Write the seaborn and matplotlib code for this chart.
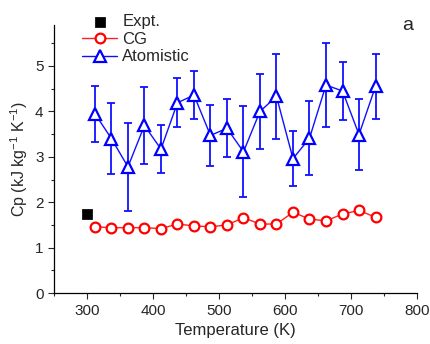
import matplotlib
matplotlib.use("Agg")
import matplotlib.pyplot as plt
import seaborn as sns
import pandas as pd
import numpy as np
from matplotlib.ticker import MultipleLocator

temperature = [312, 337, 362, 387, 412, 437, 462, 487, 512, 537, 562, 587, 612, 637, 662, 687, 712, 737]
cg_cp = [1.46, 1.44, 1.44, 1.44, 1.42, 1.52, 1.48, 1.46, 1.50, 1.66, 1.52, 1.52, 1.78, 1.63, 1.59, 1.74, 1.82, 1.67]
atom_cp = [3.95, 3.40, 2.78, 3.69, 3.17, 4.19, 4.36, 3.47, 3.63, 3.11, 4.00, 4.33, 2.96, 3.41, 4.58, 4.45, 3.49, 4.55]
atom_err = [0.62, 0.78, 0.97, 0.85, 0.53, 0.54, 0.52, 0.67, 0.64, 1.00, 0.83, 0.94, 0.61, 0.82, 0.92, 0.63, 0.78, 0.71]
expt_T = [300]
expt_cp = [1.75]

sns.set_style("ticks")
plt.rcParams['font.family'] = ['Liberation Sans', 'DejaVu Sans']
plt.rcParams['mathtext.fontset'] = 'custom'
plt.rcParams['mathtext.rm'] = 'Liberation Sans'
plt.rcParams['mathtext.it'] = 'Liberation Sans'

fig = plt.figure(figsize=(4.3, 3.44), dpi=100)
ax = fig.add_axes([0.1256, 0.148, 0.8444, 0.779])

df_cg = pd.DataFrame({"T": temperature, "Cp": cg_cp})
df_at = pd.DataFrame({"T": temperature, "Cp": atom_cp, "err": atom_err})
df_ex = pd.DataFrame({"T": expt_T, "Cp": expt_cp})

ax.errorbar(df_at["T"], df_at["Cp"], yerr=df_at["err"], fmt="none",
            ecolor="#1010ff", elinewidth=1.3, capsize=3, capthick=1.3, zorder=2)

sns.scatterplot(data=df_ex, x="T", y="Cp", marker="s", color="black", s=45,
                edgecolor="black", ax=ax, label="Expt.", zorder=4)
sns.lineplot(data=df_cg, x="T", y="Cp", color="#ff2020", lw=1.0, marker="o",
             markersize=7, markerfacecolor="white", markeredgecolor="#ff0000",
             markeredgewidth=1.6, ax=ax, label="CG", zorder=3)
sns.lineplot(data=df_at, x="T", y="Cp", color="#1010ff", lw=1.0, marker="^",
             markersize=9, markerfacecolor="white", markeredgecolor="#0000ff",
             markeredgewidth=1.6, ax=ax, label="Atomistic", zorder=3)

ax.set_xlim(250, 800)
ax.set_ylim(0, 5.9)
ax.xaxis.set_major_locator(MultipleLocator(100))
ax.xaxis.set_minor_locator(MultipleLocator(50))
ax.yaxis.set_major_locator(MultipleLocator(1))
ax.yaxis.set_minor_locator(MultipleLocator(0.5))
ax.set_xticks([300, 400, 500, 600, 700, 800])
ax.tick_params(axis="both", which="major", direction="out", length=4, width=0.8, labelsize=11)
ax.tick_params(axis="both", which="minor", direction="out", length=2, width=0.8)
sns.despine(ax=ax)
for s in ["left", "bottom"]:
    ax.spines[s].set_linewidth(0.9)
    ax.spines[s].set_color("black")

ax.set_xlabel("Temperature (K)", fontsize=12)
ax.set_ylabel("Cp (kJ kg$^{-1}$ K$^{-1}$)", fontsize=11.5)

leg = ax.legend(loc="upper left", bbox_to_anchor=(0.06, 1.065), frameon=False,
                fontsize=12, handlelength=2.1, handletextpad=0.3,
                labelspacing=0.15, borderaxespad=0)

ax.text(0.974, 1.03, "a", transform=ax.transAxes, fontsize=14, ha="center", va="top")

fig.savefig("out.png", dpi=100)
